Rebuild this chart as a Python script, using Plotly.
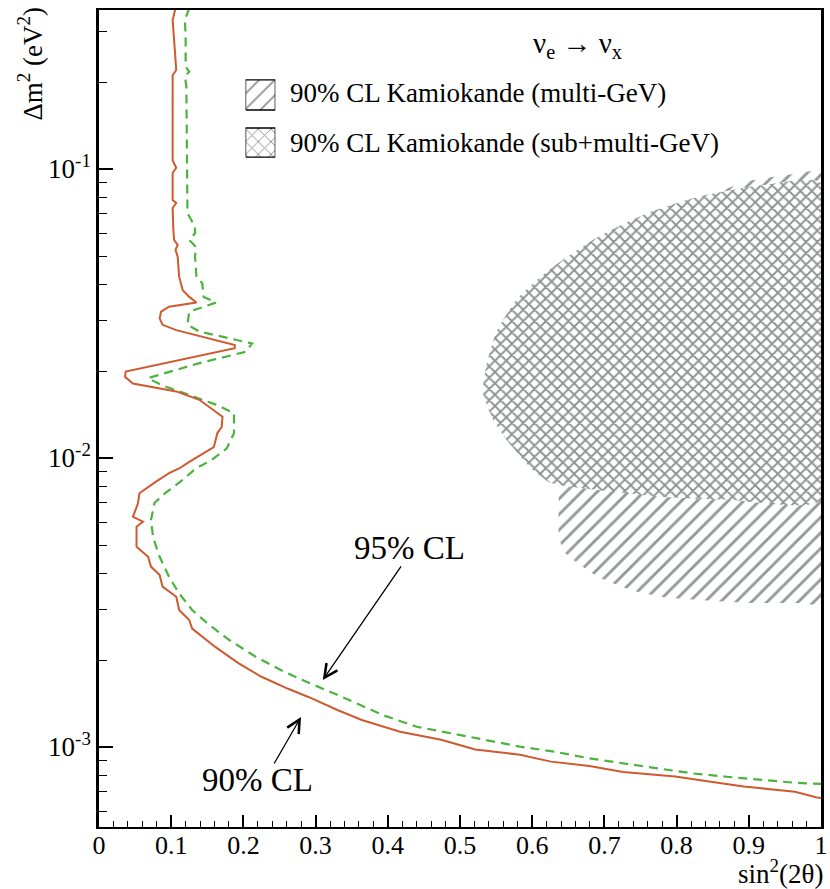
import plotly.graph_objects as go

# 90% CL exclusion contour (sin^2(2theta), delta m^2 [eV^2])
cl90 = [
    (0.106, 0.36), (0.102, 0.328), (0.107, 0.220), (0.102, 0.211), (0.102, 0.107),
    (0.107, 0.101), (0.102, 0.0969), (0.102, 0.0781), (0.107, 0.0763), (0.102, 0.0733),
    (0.103, 0.0615), (0.104, 0.0568), (0.109, 0.0546), (0.106, 0.0525), (0.109, 0.0497),
    (0.111, 0.0424), (0.116, 0.0381), (0.125, 0.0361), (0.135, 0.0345), (0.097, 0.0334),
    (0.086, 0.0321), (0.084, 0.0304), (0.088, 0.0289), (0.107, 0.0277), (0.188, 0.0246),
    (0.188, 0.0240), (0.037, 0.0199), (0.036, 0.0191), (0.047, 0.0181), (0.107, 0.0170),
    (0.139, 0.0159), (0.171, 0.0139), (0.170, 0.0128), (0.164, 0.0122), (0.159, 0.0109),
    (0.145, 0.0104), (0.125, 0.0097), (0.111, 0.0092), (0.097, 0.00886), (0.079, 0.00828),
    (0.056, 0.00755), (0.054, 0.00697), (0.047, 0.00626), (0.061, 0.00602), (0.052, 0.00578),
    (0.052, 0.00493), (0.068, 0.00455), (0.072, 0.00421), (0.084, 0.00394), (0.088, 0.00359),
    (0.107, 0.00331), (0.111, 0.00298), (0.125, 0.00275), (0.129, 0.00257), (0.161, 0.00222),
    (0.193, 0.00195), (0.225, 0.00175), (0.262, 0.00159), (0.290, 0.00149), (0.331, 0.00134),
    (0.364, 0.00124), (0.417, 0.00113), (0.474, 0.00106), (0.521, 0.00098), (0.583, 0.00094),
    (0.626, 0.00089), (0.679, 0.00086), (0.726, 0.00082), (0.798, 0.00079), (0.845, 0.00076),
    (0.893, 0.00073), (0.940, 0.00071), (0.964, 0.00070), (0.993, 0.00067), (1.000, 0.000666),
]

# 95% CL exclusion contour
cl95 = [
    (0.125, 0.36), (0.119, 0.328), (0.120, 0.287), (0.120, 0.226), (0.125, 0.217),
    (0.119, 0.209), (0.121, 0.193), (0.1225, 0.102), (0.1225, 0.0704), (0.133, 0.0631),
    (0.133, 0.0599), (0.125, 0.0568), (0.134, 0.0538), (0.133, 0.0497), (0.135, 0.0424),
    (0.143, 0.0402), (0.145, 0.0361), (0.162, 0.0345), (0.125, 0.0321), (0.1225, 0.0289),
    (0.139, 0.0274), (0.212, 0.0249), (0.203, 0.0233), (0.139, 0.0213), (0.068, 0.0189),
    (0.086, 0.0179), (0.116, 0.0168), (0.162, 0.0153), (0.187, 0.0143), (0.187, 0.0122),
    (0.177, 0.0108), (0.155, 0.0098), (0.134, 0.0092), (0.116, 0.0084), (0.093, 0.0076),
    (0.077, 0.0070), (0.072, 0.0061), (0.075, 0.0053), (0.084, 0.00455), (0.097, 0.00388),
    (0.111, 0.0034), (0.129, 0.00298), (0.150, 0.00268), (0.180, 0.00235), (0.216, 0.00206),
    (0.253, 0.00184), (0.276, 0.00173), (0.298, 0.00164), (0.320, 0.00155), (0.345, 0.00146),
    (0.393, 0.00129), (0.440, 0.001175),
    (0.488, 0.001115), (0.536, 0.001057), (0.583, 0.001003), (0.631, 0.000963), (0.679, 0.000914),
    (0.726, 0.000878), (0.774, 0.000844), (0.821, 0.000811), (0.869, 0.000789), (0.917, 0.000769),
    (0.964, 0.000752), (1.000, 0.000745),
]

# Kamiokande 90% CL allowed region, multi-GeV sample
kam_multi = [
    (0.859, 0.0833), (0.907, 0.0916), (0.962, 0.0961), (1.0, 0.0976), (1.0, 0.00315),
    (0.966, 0.00315), (0.897, 0.00315), (0.829, 0.00323), (0.783, 0.0033), (0.738, 0.00349),
    (0.691, 0.00388), (0.646, 0.00469), (0.637, 0.00533), (0.637, 0.00806), (0.632, 0.0159),
    (0.646, 0.030), (0.715, 0.0484), (0.824, 0.0693), (0.859, 0.0833),
]

# Kamiokande 90% CL allowed region, sub-GeV + multi-GeV combined
kam_sub_multi = [
    (1.0, 0.0895), (0.920, 0.088), (0.829, 0.080), (0.760, 0.0704), (0.691, 0.0582),
    (0.623, 0.0447), (0.578, 0.0352), (0.550, 0.0271), (0.536, 0.0206), (0.532, 0.0168),
    (0.546, 0.01354), (0.568, 0.01127), (0.601, 0.00909), (0.623, 0.00826), (0.637, 0.00806),
    (0.691, 0.00775), (0.783, 0.00733), (0.875, 0.00716), (1.0, 0.00716), (1.0, 0.0895),
]

x_tick_vals = [0, 0.1, 0.2, 0.3, 0.4, 0.5, 0.6, 0.7, 0.8, 0.9, 1.0]
x_tick_text = ["0", "0.1", "0.2", "0.3", "0.4", "0.5", "0.6", "0.7", "0.8", "0.9", "1"]
y_tick_vals = [1e-3, 1e-2, 1e-1]
y_tick_text = ["10<sup>-3</sup>", "10<sup>-2</sup>", "10<sup>-1</sup>"]

legend_labels = ["90% CL Kamiokande (multi-GeV)", "90% CL Kamiokande (sub+multi-GeV)"]

FONT = "Liberation Serif, Times New Roman, serif"
RED = "#cf5a2f"
GREEN = "#4cb33e"
HATCH = "#2a302f"
CROSS = "#202a26"


def xs(pts):
    return [p[0] for p in pts]


def ys(pts):
    return [p[1] for p in pts]


fig = go.Figure()

# allowed regions: single hatch underneath, cross hatch on top
fig.add_trace(go.Scatter(
    x=xs(kam_multi), y=ys(kam_multi), mode="lines", fill="toself",
    line=dict(width=0, shape="spline", smoothing=0.5),
    fillcolor="rgba(0,0,0,0)",
    fillpattern=dict(shape="/", size=11, solidity=0.26, fgcolor=HATCH, bgcolor="white"),
    hoverinfo="skip", showlegend=False,
))
fig.add_trace(go.Scatter(
    x=xs(kam_sub_multi), y=ys(kam_sub_multi), mode="lines", fill="toself",
    line=dict(width=0, shape="spline", smoothing=0.6),
    fillcolor="rgba(0,0,0,0)",
    fillpattern=dict(shape="x", size=8, solidity=0.42, fgcolor=CROSS, bgcolor="white"),
    hoverinfo="skip", showlegend=False,
))

# exclusion contours
fig.add_trace(go.Scatter(
    x=xs(cl95), y=ys(cl95), mode="lines",
    line=dict(color=GREEN, width=2.2, dash="9px,6px"),
    showlegend=False,
))
fig.add_trace(go.Scatter(
    x=xs(cl90), y=ys(cl90), mode="lines",
    line=dict(color=RED, width=2),
    showlegend=False,
))

# legend swatches drawn on a small inset axis
swatch_boxes = [
    ([0, 1, 1, 0, 0], [0.6, 0.6, 0.975, 0.975, 0.6], "/", 11, 0.16),
    ([0, 1, 1, 0, 0], [0.0125, 0.0125, 0.375, 0.375, 0.0125], "x", 9, 0.2),
]
for bx, by, shp, sz, sol in swatch_boxes:
    fig.add_trace(go.Scatter(
        x=bx, y=by, xaxis="x2", yaxis="y2", mode="lines", fill="toself",
        line=dict(color="black", width=1.3),
        fillcolor="rgba(0,0,0,0)",
        fillpattern=dict(shape=shp, size=sz, solidity=sol, fgcolor="#222", bgcolor="white"),
        hoverinfo="skip", showlegend=False,
    ))

minor_x = [i / 50 for i in range(51) if i % 5]
minor_y = [k * 10.0 ** e for e in range(-4, 1) for k in range(2, 10)]

fig.update_layout(
    width=830, height=889,
    margin=dict(l=99, r=2, t=10, b=62),
    paper_bgcolor="white", plot_bgcolor="white",
    font=dict(family=FONT, size=26, color="black"),
    xaxis=dict(
        range=[0, 1], tickvals=x_tick_vals, ticktext=x_tick_text,
        ticks="inside", ticklen=12, tickwidth=1.5, tickcolor="black",
        showline=True, linecolor="black", linewidth=2, mirror=True,
        showgrid=False, zeroline=False, ticklabeloverflow="allow",
        ticklabelstandoff=-6,
        tickfont=dict(family=FONT, size=26),
        minor=dict(tickvals=minor_x, ticks="inside", ticklen=6, tickwidth=1.2,
                   tickcolor="black", showgrid=False),
    ),
    yaxis=dict(
        type="log", range=[-3.2768, -0.4498],
        tickvals=y_tick_vals, ticktext=y_tick_text,
        ticks="inside", ticklen=14, tickwidth=1.5, tickcolor="black",
        showline=True, linecolor="black", linewidth=2.5, mirror=True,
        showgrid=False, zeroline=False,
        tickfont=dict(family=FONT, size=27),
        minor=dict(tickvals=minor_y, ticks="inside", ticklen=8, tickwidth=1.2,
                   tickcolor="black", showgrid=False),
    ),
    xaxis2=dict(domain=[0.203, 0.2442], range=[0, 1], visible=False,
                anchor="y2", fixedrange=True),
    yaxis2=dict(domain=[0.8188, 0.9168], range=[0, 1], visible=False,
                anchor="x2", fixedrange=True),
)

arrow_style = dict(showarrow=True, arrowhead=5, arrowsize=2.0, arrowwidth=1.3,
                   arrowcolor="black", standoff=0)

annotations = [
    # reaction label
    dict(text="ν<sub>e</sub> → ν<sub>x</sub>", xref="paper", yref="paper",
         x=0.6626, y=0.957, xanchor="center", yanchor="middle",
         showarrow=False, font=dict(size=29)),
    # axis titles
    dict(text="Δm<sup>2</sup> (eV<sup>2</sup>)", xref="paper", yref="paper",
         x=-0.095, y=0.935, xanchor="center", yanchor="middle", textangle=-90,
         showarrow=False, font=dict(size=27)),
    dict(text="sin<sup>2</sup>(2θ)", xref="paper", yref="paper",
         x=0.944, y=-0.0551, xanchor="center", yanchor="middle",
         showarrow=False, font=dict(size=27)),
    # legend text
    dict(text=legend_labels[0], xref="paper", yref="paper", x=0.262, y=0.8984,
         xanchor="left", yanchor="middle", showarrow=False, font=dict(size=27)),
    dict(text=legend_labels[1], xref="paper", yref="paper", x=0.262, y=0.8372,
         xanchor="left", yanchor="middle", showarrow=False, font=dict(size=27)),
    # contour labels with arrows
    dict(text="95% CL", x=0.4294, y=-2.3114, xref="x", yref="y",
         xanchor="center", yanchor="middle", showarrow=False, font=dict(size=33)),
    dict(text="", x=0.31, y=-2.768, xref="x", yref="y",
         ax=0.4198, ay=-2.370, axref="x", ayref="y", **arrow_style),
    dict(text="90% CL", x=0.2195, y=-3.114, xref="x", yref="y",
         xanchor="center", yanchor="middle", showarrow=False, font=dict(size=33)),
    dict(text="", x=0.2798, y=-2.896, xref="x", yref="y",
         ax=0.2414, ay=-3.0623, axref="x", ayref="y", **arrow_style),
]
fig.update_layout(annotations=annotations)

fig.write_html("out.html")
